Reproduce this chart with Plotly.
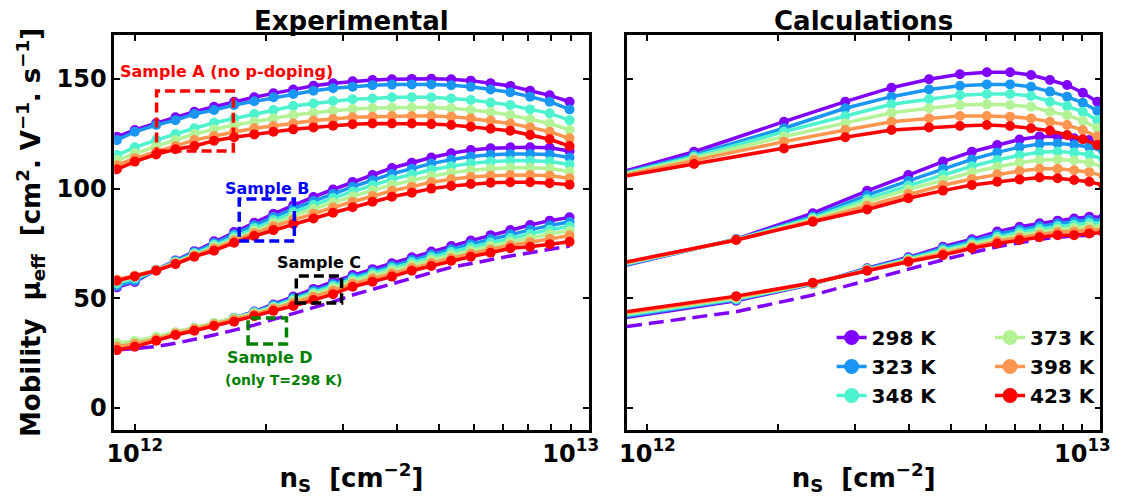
import plotly.graph_objects as go

# ---------------- data ----------------
temps = ["298 K", "323 K", "348 K", "373 K", "398 K", "423 K"]
colors = ["#8000ff", "#1996f3", "#4df3ce", "#b3f396", "#ff964f", "#ff0000"]

# experimental sheet density (x 1e12 cm^-2)
exp_ns = [0.91, 1.00, 1.12, 1.24, 1.37, 1.52, 1.69, 1.88, 2.08, 2.31, 2.57, 2.85,
          3.16, 3.51, 3.89, 4.32, 4.79, 5.32, 5.90, 6.55, 7.27, 8.07, 8.95, 9.94]

exp_A = [
    [123.6, 126.7, 129.8, 132.5, 135.0, 137.3, 139.6, 141.6, 143.4, 145.2, 146.9, 148.0,
     148.9, 149.5, 149.8, 150.0, 150.1, 149.8, 149.2, 148.0, 146.8, 144.6, 142.5, 139.6],
    [122.1, 125.9, 129.0, 131.2, 134.0, 135.8, 138.1, 139.8, 141.6, 143.1, 144.6, 145.7,
     146.4, 147.1, 147.4, 147.5, 147.5, 147.1, 146.4, 145.2, 143.9, 141.9, 139.6, 136.1],
    [115.3, 118.8, 122.1, 124.9, 127.5, 130.0, 132.0, 134.0, 135.8, 137.6, 138.8, 139.9,
     140.7, 141.1, 141.6, 141.6, 141.6, 141.1, 140.4, 139.2, 138.1, 136.1, 134.3, 131.2],
    [113.0, 116.1, 119.4, 122.1, 124.9, 127.0, 129.0, 130.5, 132.0, 133.5, 134.6, 135.5,
     136.3, 136.7, 137.0, 137.0, 137.0, 136.6, 135.8, 134.9, 133.5, 131.6, 129.7, 126.7],
    [110.7, 113.8, 116.8, 119.4, 122.1, 124.0, 125.9, 127.5, 128.5, 129.7, 131.0, 131.7,
     132.5, 132.8, 133.1, 133.1, 133.1, 132.8, 132.0, 131.0, 129.7, 127.9, 125.9, 122.9],
    [108.8, 112.3, 115.6, 117.9, 119.4, 121.8, 123.4, 124.7, 125.9, 127.0, 127.9, 128.7,
     129.3, 129.7, 129.7, 129.7, 129.4, 129.0, 128.2, 127.3, 126.4, 124.4, 122.5, 119.4],
]

exp_B = [
    [55.0, 57.5, 63.0, 67.2, 71.5, 76.0, 80.2, 84.4, 88.5, 92.4, 96.2, 99.6,
     103.0, 106.2, 109.4, 111.8, 114.2, 116.1, 117.6, 118.4, 118.8, 118.8, 118.6, 117.1],
    [55.6, 58.0, 62.9, 67.0, 71.0, 75.2, 79.2, 83.3, 87.1, 90.8, 94.3, 97.6,
     100.8, 103.8, 106.7, 109.1, 111.4, 113.2, 114.6, 115.4, 115.8, 115.8, 115.6, 114.2],
    [56.8, 59.0, 62.9, 66.6, 70.5, 74.4, 78.2, 82.1, 85.7, 89.2, 92.5, 95.7,
     98.7, 101.5, 104.2, 106.4, 108.6, 110.2, 111.5, 112.3, 112.7, 112.7, 112.4, 111.0],
    [57.8, 59.8, 62.8, 66.3, 70.0, 73.6, 77.2, 80.9, 84.3, 87.6, 90.7, 93.7,
     96.5, 99.2, 101.7, 103.7, 105.7, 107.2, 108.4, 109.1, 109.5, 109.5, 109.2, 107.8],
    [58.5, 60.3, 62.8, 66.0, 69.5, 72.7, 76.3, 79.7, 82.8, 85.8, 88.6, 91.4,
     94.0, 96.6, 99.0, 100.9, 102.9, 104.3, 105.3, 105.9, 106.2, 106.2, 105.9, 104.7],
    [58.0, 60.0, 62.6, 65.6, 69.0, 71.7, 75.3, 78.4, 81.1, 83.9, 86.4, 89.0,
     91.5, 94.0, 96.3, 98.1, 100.0, 101.2, 102.1, 102.7, 102.9, 102.9, 102.5, 101.8],
]

exp_C = [
    [27.3, 28.8, 31.0, 33.5, 35.8, 38.2, 41.0, 44.0, 47.2, 50.8, 54.3, 57.6,
     60.6, 63.3, 66.0, 68.7, 71.3, 73.8, 76.3, 78.8, 81.1, 83.4, 85.4, 86.9],
    [27.8, 29.3, 31.5, 34.0, 36.2, 38.5, 41.0, 43.8, 46.8, 50.1, 53.4, 56.5,
     59.6, 62.2, 64.8, 67.5, 70.0, 72.4, 74.7, 77.0, 79.2, 81.2, 83.2, 84.8],
    [28.5, 29.8, 31.9, 34.3, 36.4, 38.6, 40.9, 43.5, 46.3, 49.4, 52.6, 55.6,
     58.7, 61.3, 63.8, 66.4, 68.8, 71.1, 73.3, 75.4, 77.5, 79.3, 81.3, 82.8],
    [29.6, 30.6, 32.5, 34.6, 36.6, 38.7, 40.8, 43.2, 45.8, 48.7, 51.8, 54.7,
     57.8, 60.3, 62.7, 65.2, 67.5, 69.7, 71.8, 73.8, 75.8, 77.4, 79.3, 80.8],
    [28.0, 29.3, 31.5, 34.0, 36.0, 38.2, 40.2, 42.7, 45.2, 47.8, 50.7, 53.5,
     56.6, 59.0, 61.3, 63.9, 66.1, 68.3, 70.3, 72.2, 74.2, 75.6, 77.2, 78.6],
    [26.4, 27.9, 30.7, 33.3, 35.2, 37.4, 39.3, 41.9, 44.3, 46.5, 49.2, 51.9,
     55.3, 57.6, 59.9, 62.6, 64.7, 67.1, 69.0, 70.8, 72.8, 73.5, 74.7, 75.8],
]

exp_D_298 = [26.4, 27.2, 28.0, 29.5, 31.3, 33.3, 35.5, 37.8, 40.4, 43.1, 45.9, 48.4,
             51.5, 54.1, 56.8, 59.5, 61.7, 64.1, 65.9, 67.7, 69.3, 70.8, 72.3, 73.8]

# calculated sheet density (x 1e12 cm^-2)
calc_A_ns = [0.45, 1.28, 2.06, 2.85, 3.64, 4.44, 5.23, 6.03, 6.82, 7.62, 8.42, 9.22, 10.02, 10.82]
calc_BC_ns = [0.80, 1.60, 2.40, 3.20, 3.98, 4.78, 5.57, 6.37, 7.17, 7.97, 8.77, 9.57, 10.37, 11.17]

calc_A = [
    [91.6, 116.8, 130.5, 139.6, 146.0, 149.8, 152.1, 153.0, 153.0, 151.8, 149.5, 147.2, 143.7, 139.6],
    [92.6, 115.3, 127.5, 136.6, 141.9, 145.2, 146.9, 147.5, 147.5, 146.4, 144.2, 141.9, 139.1, 135.5],
    [93.0, 114.5, 125.9, 133.1, 138.4, 140.7, 142.6, 143.1, 143.1, 142.2, 139.6, 137.6, 135.0, 131.2],
    [93.5, 113.8, 123.7, 129.7, 134.6, 136.6, 138.1, 138.4, 138.1, 137.3, 135.0, 133.5, 130.9, 127.5],
    [94.0, 113.0, 121.4, 126.7, 130.5, 132.0, 133.1, 133.1, 132.8, 132.0, 130.5, 129.0, 126.7, 123.7],
    [95.3, 111.2, 118.3, 123.4, 126.7, 127.9, 128.5, 129.0, 128.5, 127.5, 126.4, 124.4, 122.5, 119.9],
]

calc_B = [
    [62.9, 77.0, 88.8, 99.0, 106.2, 112.3, 116.8, 119.9, 122.4, 123.7, 123.7, 122.9, 122.1, 120.0],
    [63.2, 76.9, 87.3, 97.0, 103.5, 109.0, 113.3, 116.5, 118.9, 120.3, 120.6, 120.0, 119.0, 117.0],
    [63.6, 76.8, 86.6, 95.3, 101.4, 106.3, 110.2, 113.0, 115.2, 116.6, 116.9, 116.4, 115.4, 113.5],
    [64.0, 76.7, 86.0, 94.0, 99.6, 104.0, 107.4, 110.0, 111.8, 113.0, 113.3, 112.8, 111.8, 110.0],
    [64.3, 76.6, 85.4, 92.2, 97.5, 101.5, 104.4, 106.5, 108.0, 109.0, 109.0, 108.4, 107.5, 105.8],
    [64.7, 76.6, 84.9, 90.5, 95.6, 99.1, 101.6, 103.1, 104.2, 105.1, 104.7, 103.9, 103.1, 101.6],
]

calc_C = [
    [39.9, 48.9, 56.5, 63.7, 68.7, 73.5, 76.9, 80.4, 82.6, 84.2, 85.4, 86.4, 87.2, 86.9],
    [40.4, 49.3, 56.6, 63.5, 68.3, 72.8, 76.0, 79.2, 81.3, 82.9, 84.1, 85.0, 85.8, 85.6],
    [41.0, 49.7, 56.7, 63.3, 67.9, 72.0, 75.1, 78.1, 80.1, 81.6, 82.8, 83.5, 84.3, 84.2],
    [41.5, 50.1, 56.8, 63.1, 67.5, 71.3, 74.3, 77.0, 78.9, 80.3, 81.5, 82.1, 82.9, 82.8],
    [42.1, 50.6, 57.0, 62.9, 67.1, 70.5, 73.5, 76.0, 77.7, 79.0, 80.2, 80.5, 81.2, 81.3],
    [42.6, 51.0, 57.1, 62.6, 66.7, 69.7, 72.8, 75.0, 76.6, 77.8, 78.8, 78.8, 79.6, 79.9],
]

calc_D_298 = [35.8, 43.9, 51.5, 58.3, 63.2, 67.5, 70.8, 73.5, 75.3, 76.9, 77.8, 78.4, 78.8, 78.9]

x_major_vals = [1e12, 1e13]
x_major_text = ["10<sup>12</sup>", "10<sup>13</sup>"]
x_minor_vals = [2e12, 3e12, 4e12, 5e12, 6e12, 7e12, 8e12, 9e12]
y_tickvals = [0, 50, 100, 150]

# ---------------- figure ----------------
FONT = "DejaVu Sans"
fig = go.Figure()


def add_group(ns, groups, xa, ya):
    for i, ys in enumerate(groups):
        fig.add_trace(go.Scatter(
            x=[v * 1e12 for v in ns], y=ys, mode="lines+markers",
            line=dict(color=colors[i], width=3.5),
            marker=dict(size=10, color=colors[i]),
            xaxis=xa, yaxis=ya, showlegend=False, hoverinfo="skip"))


def add_dashed(ns, ys, xa, ya):
    fig.add_trace(go.Scatter(
        x=[v * 1e12 for v in ns], y=ys, mode="lines",
        line=dict(color=colors[0], width=3.5, dash="15px,7px"),
        xaxis=xa, yaxis=ya, showlegend=False, hoverinfo="skip"))


add_dashed(exp_ns, exp_D_298, "x", "y")
add_group(exp_ns, exp_C, "x", "y")
add_group(exp_ns, exp_B, "x", "y")
add_group(exp_ns, exp_A, "x", "y")

add_dashed(calc_BC_ns, calc_D_298, "x2", "y2")
add_group(calc_BC_ns, calc_C, "x2", "y2")
add_group(calc_BC_ns, calc_B, "x2", "y2")
add_group(calc_A_ns, calc_A, "x2", "y2")

# legend entries
for i, t in enumerate(temps):
    fig.add_trace(go.Scatter(
        x=[None], y=[None], mode="lines+markers", name=t,
        line=dict(color=colors[i], width=3.5),
        marker=dict(size=15, color=colors[i]),
        xaxis="x2", yaxis="y2",
        legend="legend" if i < 3 else "legend2"))

W, H = 1126, 496
xdom1 = [108 / W, 590 / W]
xdom2 = [629 / W, 1110 / W]
ydom = [66 / H, 461 / H]

tickfont = dict(family=FONT, size=24, color="black", weight="bold")
titlefont = dict(family=FONT, size=26, color="black", weight="bold")

common_x = dict(type="log", range=[11.953, 13.041], tickmode="array",
                tickvals=x_major_vals, ticktext=x_major_text,
                ticks="inside", ticklen=6, tickwidth=2, tickcolor="black",
                minor=dict(tickmode="array", tickvals=x_minor_vals, ticks="inside",
                           ticklen=6, tickwidth=2, tickcolor="black", showgrid=False),
                showline=True, linewidth=2.5, linecolor="black", mirror="allticks",
                showgrid=False, zeroline=False, tickfont=tickfont,
                title=dict(text="n<sub>S</sub>  [cm<sup>\u22122</sup>]", font=titlefont, standoff=4))
common_y = dict(range=[-10, 170], tickvals=y_tickvals,
                ticks="inside", ticklen=6, tickwidth=2, tickcolor="black",
                showline=True, linewidth=2.5, linecolor="black", mirror="allticks",
                showgrid=False, zeroline=False, tickfont=tickfont)

fig.update_layout(
    width=W, height=H,
    margin=dict(l=0, r=0, t=0, b=0),
    paper_bgcolor="white", plot_bgcolor="white",
    font=dict(family=FONT, color="black"),
    xaxis=dict(domain=xdom1, anchor="y", **common_x),
    xaxis2=dict(domain=xdom2, anchor="y2", **common_x),
    yaxis=dict(domain=ydom, anchor="x", **common_y,
               title=dict(text="Mobility  \u03bc<sub>eff</sub>  [cm<sup>2</sup>. V<sup>\u22121</sup>. s<sup>\u22121</sup>]",
                          font=titlefont, standoff=9)),
    yaxis2=dict(domain=ydom, anchor="x2", showticklabels=False, **common_y),
    legend=dict(x=837 / W, y=(H - 318) / H, xanchor="left", yanchor="top",
                bgcolor="rgba(0,0,0,0)", font=dict(family=FONT, size=20, weight="bold"),
                tracegroupgap=0),
    legend2=dict(x=998 / W, y=(H - 318) / H, xanchor="left", yanchor="top",
                 bgcolor="rgba(0,0,0,0)", font=dict(family=FONT, size=20, weight="bold"),
                 tracegroupgap=0),
    showlegend=True,
)

# panel titles
for txt, cx in [("Experimental", 349), ("Calculations", 869)]:
    fig.add_annotation(text=txt, x=cx / W, y=(H - 21) / H, xref="paper", yref="paper",
                       xanchor="center", yanchor="middle", showarrow=False,
                       font=dict(family=FONT, size=26, color="black", weight="bold"))

# sample boxes (paper coords, px based)
boxes = [
    ((151, 91, 229, 151), "#ff0000"),
    ((235, 199, 291, 241), "#0000ff"),
    ((293, 276, 339, 303), "black"),
    ((244, 318, 283, 344), "#008000"),
]
for (x0, y0, x1, y1), c in boxes:
    fig.add_shape(type="rect", xref="paper", yref="paper",
                  x0=x0 / W, x1=x1 / W, y0=(H - y1) / H, y1=(H - y0) / H,
                  line=dict(color=c, width=3.5, dash="10px,5px"), fillcolor="rgba(0,0,0,0)")

labels = [
    ("Sample A (no p-doping)", 222, 72, "#ff0000", 16),
    ("Sample B", 264, 188, "#0000ff", 16),
    ("Sample C", 316, 262, "black", 16),
    ("Sample D", 266, 357, "#008000", 16),
    ("(only T=298 K)", 280, 380, "#008000", 14),
]
for txt, cx, cy, c, fs in labels:
    fig.add_annotation(text=txt, x=cx / W, y=(H - cy) / H, xref="paper", yref="paper",
                       xanchor="center", yanchor="middle", showarrow=False,
                       font=dict(family=FONT, size=fs, color=c, weight="bold"))

fig.write_html("out.html")
